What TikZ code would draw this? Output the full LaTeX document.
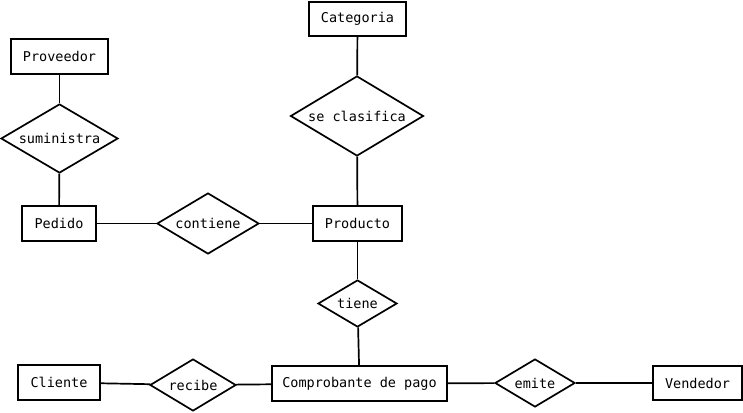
\documentclass[tikz,border=0pt]{standalone}
\usepackage{fontspec}
\setmonofont{DejaVu Sans Mono}
\usetikzlibrary{shapes.geometric}
\begin{document}
\begin{tikzpicture}[x=1pt, y=-1pt, every node/.style={font=\ttfamily\fontsize{13.5}{16}\selectfont}]
    \tikzstyle{entidad} = [rectangle, draw=black, line width=1.7pt, inner sep=0pt, minimum height=35pt, text centered]
    \tikzstyle{relacion} = [diamond, draw=black, line width=1.7pt, inner sep=0pt, aspect=2, text centered]
    \tikzstyle{linea} = [line width=1.7pt]
    \useasboundingbox (0,0) rectangle (743,412);

    % Entidades
    \node [entidad, minimum width=97pt, minimum height=34pt] (categoria) at (357.5,19) {Categoria};
    \node [entidad, minimum width=97pt] (proveedor) at (59.5,56.5) {Proveedor};
    \node [entidad, minimum width=74pt] (pedido) at (59,223.5) {Pedido};
    \node [entidad, minimum width=89pt] (producto) at (357.5,223.5) {Producto};
    \node [entidad, minimum width=82pt] (cliente) at (59,382.5) {Cliente};
    \node [entidad, minimum width=175pt] (comprobante) at (359.5,383.5) {Comprobante de pago};
    \node [entidad, minimum width=89pt, minimum height=34pt] (vendedor) at (697.5,383) {Vendedor};

    % Relaciones
    \node [relacion, minimum width=133pt, minimum height=80pt] (clasifica) at (357,116) {se clasifica};
    \node [relacion, minimum width=117pt, minimum height=69pt] (suministra) at (59.5,138.5) {suministra};
    \node [relacion, minimum width=102pt, minimum height=61pt] (contiene) at (208,223.5) {contiene};
    \node [relacion, minimum width=79pt, minimum height=47pt] (tiene) at (357.5,303.5) {tiene};
    \node [relacion, minimum width=86pt, minimum height=52pt] (recibe) at (193,385) {recibe};
    \node [relacion, minimum width=80pt, minimum height=48pt] (emite) at (535,383) {emite};

    % Conexiones
    \draw [linea] (categoria) -- (clasifica);
    \draw [linea] (clasifica) -- (producto);
    \draw [linea] (proveedor) -- (suministra);
    \draw [linea] (suministra) -- (pedido);
    \draw [linea] (pedido) -- (contiene);
    \draw [linea] (contiene) -- (producto);
    \draw [linea] (producto) -- (tiene);
    \draw [linea] (tiene) -- (comprobante);
    \draw [linea] (cliente) -- (recibe);
    \draw [linea] (recibe) -- (comprobante);
    \draw [linea] (comprobante) -- (emite);
    \draw [linea] (emite) -- (vendedor);
\end{tikzpicture}
\end{document}
